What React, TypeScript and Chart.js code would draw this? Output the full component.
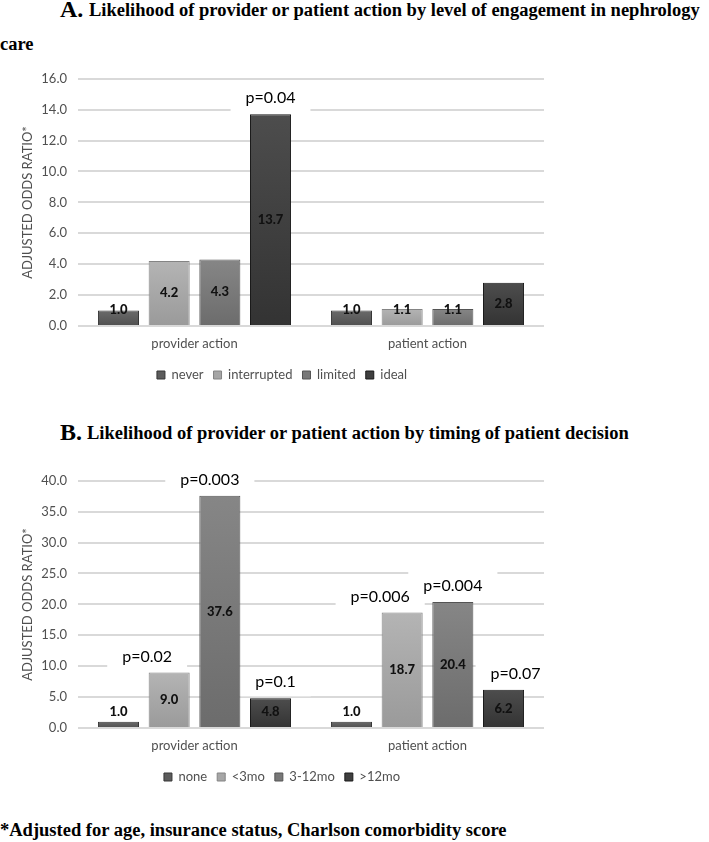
import React, { useEffect, useRef } from "react";
import { Chart, registerables } from "chart.js";

Chart.register(...registerables);

// ---------- data ----------
const CATEGORIES = ["provider action", "patient action"];

const ENGAGEMENT_LABELS = ["never", "interrupted", "limited", "ideal"];
const ENG_NEVER = [1.0, 1.0];
const ENG_INTERRUPTED = [4.2, 1.1];
const ENG_LIMITED = [4.3, 1.1];
const ENG_IDEAL = [13.7, 2.8];
const ENG_P_NEVER = [null, null];
const ENG_P_INTERRUPTED = [null, null];
const ENG_P_LIMITED = [null, null];
const ENG_P_IDEAL = ["p=0.04", null];
const ENG_Y_MAX = 16;
const ENG_Y_STEP = 2;

const TIMING_LABELS = ["none", "<3mo", "3-12mo", ">12mo"];
const TIM_NONE = [1.0, 1.0];
const TIM_LT3 = [9.0, 18.7];
const TIM_3TO12 = [37.6, 20.4];
const TIM_GT12 = [4.8, 6.2];
const TIM_P_NONE = [null, null];
const TIM_P_LT3 = ["p=0.02", "p=0.006"];
const TIM_P_3TO12 = ["p=0.003", "p=0.004"];
const TIM_P_GT12 = ["p=0.1", "p=0.07"];
const TIM_Y_MAX = 40;
const TIM_Y_STEP = 5;

const Y_TITLE = "ADJUSTED ODDS RATIO*";

// ---------- style ----------
const FILLS = ["#5c5c5c", "#a6a6a6", "#787878", "#3f3f3f"];
const BORDERS = ["#363636", "#848484", "#545454", "#1a1a1a"];
const FONT = "Lato, 'Liberation Sans', sans-serif";
const SERIF = "'Liberation Serif', 'Times New Roman', serif";
const TEXT_GRAY = "#505050";

// horizontal nudges of the p-value annotations (layout only)
const ENG_P_SHIFT = [[0, 0], [0, 0], [0, 0], [0, 0]];
const TIM_P_SHIFT = [[0, 0], [-22, -22], [-10, 0], [5, 12]];

function shade(hex: string, amt: number) {
  const n = parseInt(hex.slice(1), 16);
  const c = (v: number) => Math.max(0, Math.min(255, v + amt));
  const r = c((n >> 16) & 255), g = c((n >> 8) & 255), b = c(n & 255);
  return `rgb(${r},${g},${b})`;
}

function makeLabelPlugin(pLabels: (string | null)[][], pShift: number[][]) {
  return {
    id: "barLabels",
    beforeDatasetsDraw(chart: any) {
      const ctx = chart.ctx;
      ctx.save();
      ctx.font = `16px ${FONT}`;
      pLabels.forEach((arr, di) => {
        const meta = chart.getDatasetMeta(di);
        arr.forEach((txt, i) => {
          if (!txt) return;
          const el = meta.data[i];
          const x = el.x + (pShift[di][i] || 0);
          const y = el.y - 16;
          const w = ctx.measureText(txt).width + 30;
          ctx.fillStyle = "#ffffff";
          ctx.fillRect(x - w / 2, y - 14, w, 28);
        });
      });
      ctx.restore();
    },
    afterDatasetsDraw(chart: any) {
      const ctx = chart.ctx;
      ctx.save();
      ctx.textAlign = "center";
      ctx.textBaseline = "middle";
      chart.data.datasets.forEach((ds: any, di: number) => {
        const meta = chart.getDatasetMeta(di);
        meta.data.forEach((el: any, i: number) => {
          const v = ds.data[i];
          const h = el.base - el.y;
          const y = el.base - Math.max(h / 2, 15);
          ctx.font = `900 13px ${FONT}`;
          ctx.fillStyle = "#111111";
          ctx.fillText(Number(v).toFixed(1), el.x, y);
          const txt = pLabels[di][i];
          if (txt) {
            ctx.font = `16px ${FONT}`;
            ctx.fillStyle = "#000000";
            ctx.fillText(txt, el.x + (pShift[di][i] || 0), el.y - 16);
          }
        });
      });
      ctx.restore();
    },
  };
}

type Props = {
  top: number;
  seriesLabels: string[];
  series: number[][];
  pLabels: (string | null)[][];
  pShift: number[][];
  yMax: number;
  yStep: number;
};

function BarChart({ top, seriesLabels, series, pLabels, pShift, yMax, yStep }: Props) {
  const ref = useRef<HTMLCanvasElement>(null);
  useEffect(() => {
    if (!ref.current) return;
    const chart = new Chart(ref.current, {
      type: "bar",
      data: {
        labels: CATEGORIES,
        datasets: series.map((d, i) => ({
          label: seriesLabels[i],
          data: d,
          backgroundColor: (c: any) => {
            const chart = c.chart;
            if (c.type !== "data" || !chart.scales || !chart.scales.y) return FILLS[i];
            const ys = chart.scales.y;
            const t = ys.getPixelForValue(c.raw);
            const b = ys.getPixelForValue(0);
            if (!isFinite(t) || !isFinite(b) || b - t < 1) return FILLS[i];
            const g = chart.ctx.createLinearGradient(0, t, 0, b);
            g.addColorStop(0, shade(FILLS[i], 14));
            g.addColorStop(1, shade(FILLS[i], -12));
            return g;
          },
          borderColor: BORDERS[i],
          borderWidth: 1,
          categoryPercentage: 0.87,
          barPercentage: 0.81,
        })),
      },
      options: {
        responsive: false,
        animation: false,
        devicePixelRatio: 1,
        layout: { padding: { top: 17, left: 20, right: 26, bottom: 8.5 } },
        plugins: {
          tooltip: { enabled: false },
          legend: {
            position: "bottom",
            labels: {
              boxWidth: 8,
              boxHeight: 8,
              padding: 10,
              color: TEXT_GRAY,
              font: { family: FONT, size: 13 },
              generateLabels: (ch: any) =>
                ch.data.datasets.map((ds: any, i: number) => ({
                  text: ds.label,
                  fillStyle: FILLS[i],
                  strokeStyle: BORDERS[i],
                  lineWidth: 1,
                  hidden: false,
                  datasetIndex: i,
                  fontColor: TEXT_GRAY,
                })),
            },
          },
        },
        scales: {
          x: {
            grid: { display: false, drawTicks: false },
            border: { display: false },
            ticks: { padding: 10, color: TEXT_GRAY, font: { family: FONT, size: 13 } },
            afterFit: (s: any) => {
              s.height = 32.5;
            },
          },
          y: {
            min: 0,
            max: yMax,
            grid: { color: "#d9d9d9", lineWidth: 2, drawTicks: false },
            border: { display: false },
            ticks: {
              stepSize: yStep,
              padding: 11,
              color: TEXT_GRAY,
              font: { family: FONT, size: 13 },
              callback: (v: any) => Number(v).toFixed(1),
            },
            title: {
              display: true,
              text: Y_TITLE,
              color: TEXT_GRAY,
              font: { family: FONT, size: 13 },
              padding: { top: 0.5, bottom: 0 },
            },
            afterFit: (s: any) => {
              s.width = 58;
            },
          },
        },
      },
      plugins: [makeLabelPlugin(pLabels, pShift)],
    } as any);
    return () => chart.destroy();
  }, []);
  return (
    <canvas
      ref={ref}
      width={570}
      height={340}
      style={{ position: "absolute", left: 0, top, width: 570, height: 340 }}
    />
  );
}

const titleStyle: React.CSSProperties = {
  position: "absolute",
  fontFamily: SERIF,
  fontWeight: "bold",
  whiteSpace: "nowrap",
  color: "#000",
};

export default function App() {
  return (
    <div style={{ position: "absolute", left: 0, top: 0, width: 709, height: 842, background: "#fff", overflow: "hidden" }}>
      <div style={{ ...titleStyle, left: 60, top: -3, fontSize: 24, lineHeight: "24px" }}>A.</div>
      <div style={{ ...titleStyle, left: 89, top: -1, fontSize: 18.5, lineHeight: "22px" }}>
        Likelihood of provider or patient action by level of engagement in nephrology
      </div>
      <div style={{ ...titleStyle, left: 0, top: 32.5, fontSize: 18.5, lineHeight: "22px" }}>care</div>

      <BarChart
        top={60}
        seriesLabels={ENGAGEMENT_LABELS}
        series={[ENG_NEVER, ENG_INTERRUPTED, ENG_LIMITED, ENG_IDEAL]}
        pLabels={[ENG_P_NEVER, ENG_P_INTERRUPTED, ENG_P_LIMITED, ENG_P_IDEAL]}
        pShift={ENG_P_SHIFT}
        yMax={ENG_Y_MAX}
        yStep={ENG_Y_STEP}
      />

      <div style={{ ...titleStyle, left: 60, top: 420, fontSize: 24, lineHeight: "24px" }}>B.</div>
      <div style={{ ...titleStyle, left: 87, top: 421.5, fontSize: 18.5, lineHeight: "22px" }}>
        Likelihood of provider or patient action by timing of patient decision
      </div>

      <BarChart
        top={462}
        seriesLabels={TIMING_LABELS}
        series={[TIM_NONE, TIM_LT3, TIM_3TO12, TIM_GT12]}
        pLabels={[TIM_P_NONE, TIM_P_LT3, TIM_P_3TO12, TIM_P_GT12]}
        pShift={TIM_P_SHIFT}
        yMax={TIM_Y_MAX}
        yStep={TIM_Y_STEP}
      />

      <div style={{ ...titleStyle, left: 0, top: 819, fontSize: 18.5, lineHeight: "22px" }}>
        *Adjusted for age, insurance status, Charlson comorbidity score
      </div>
    </div>
  );
}
